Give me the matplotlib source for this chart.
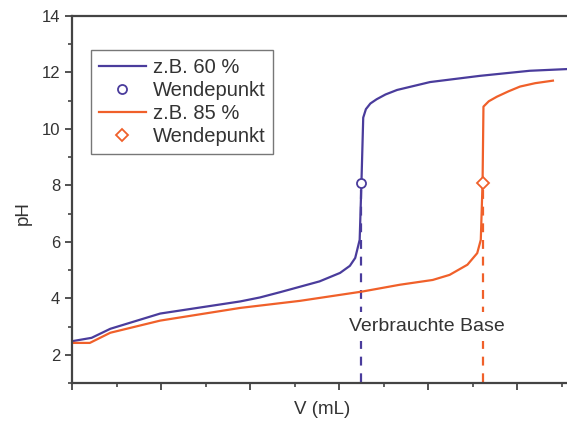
import matplotlib.pyplot as plt
from matplotlib.ticker import MultipleLocator, NullFormatter

plt.rcParams['font.family'] = ['Liberation Sans', 'DejaVu Sans']

# titration curves, x in (unlabelled) axis units, pH
v_60 = [0.0, 0.22, 0.43, 0.99, 1.89, 2.11, 2.34, 2.78, 3.01, 3.12, 3.18, 3.23,
        3.25, 3.27, 3.30, 3.35, 3.42, 3.52, 3.65, 4.02, 4.58, 5.14, 5.56, 6.0]
ph_60 = [2.48, 2.6, 2.92, 3.46, 3.89, 4.03, 4.22, 4.6, 4.9, 5.15, 5.43, 6.07,
         8.1, 10.4, 10.7, 10.9, 11.05, 11.22, 11.38, 11.66, 11.88, 12.06, 12.12, 12.15]

v_85 = [0.0, 0.2, 0.43, 0.99, 1.89, 2.56, 3.26, 3.68, 4.05, 4.24, 4.44, 4.55,
        4.59, 4.61, 4.62, 4.68, 4.77, 4.9, 5.03, 5.2, 5.40]
ph_85 = [2.42, 2.42, 2.78, 3.21, 3.66, 3.91, 4.24, 4.48, 4.65, 4.83, 5.19, 5.6,
         6.07, 8.1, 10.79, 10.98, 11.14, 11.33, 11.5, 11.62, 11.71]

wp_v = [3.25, 4.61]
wp_ph = [8.1, 8.1]

blue = '#4a3c9c'
orange = '#f0602a'
grey = '#333333'

fig = plt.figure(figsize=(5.67, 4.23), dpi=100)
ax = fig.add_axes([72 / 567, 1 - 383 / 423, 6 * 89.06 / 567, 367 / 423])

ax.plot(v_60, ph_60, color=blue, lw=1.6, label='z.B. 60 %')
ax.plot(wp_v[0], wp_ph[0], 'o', ms=6.5, mfc='white', mec=blue, mew=1.3, label='Wendepunkt')
ax.plot(v_85, ph_85, color=orange, lw=1.6, label='z.B. 85 %')
ax.plot(wp_v[1], wp_ph[1], 'D', ms=6, mfc='white', mec=orange, mew=1.3, label='Wendepunkt')

# dashed drop lines to the x axis
ax.plot([wp_v[0], wp_v[0]], [wp_ph[0] - 0.25, 1], color=blue, lw=1.6, ls=(0, (4, 3.5)), zorder=1)
ax.plot([wp_v[1], wp_v[1]], [wp_ph[1] - 0.25, 1], color=orange, lw=1.6, ls=(0, (4, 3.5)), zorder=1)

ax.text(3.99, 3.0, 'Verbrauchte Base', ha='center', va='center', fontsize=14, color=grey,
        bbox=dict(facecolor='white', edgecolor='none', pad=4), zorder=3)

ax.set_xlim(0, 6)
ax.set_ylim(1, 14)
ax.xaxis.set_major_locator(MultipleLocator(1))
ax.xaxis.set_minor_locator(MultipleLocator(0.5))
ax.xaxis.set_major_formatter(NullFormatter())
ax.yaxis.set_major_locator(MultipleLocator(2))
ax.yaxis.set_minor_locator(MultipleLocator(1))
ax.set_yticks([2, 4, 6, 8, 10, 12, 14])

for s in ax.spines.values():
    s.set_linewidth(1.6)
    s.set_color('#444444')
ax.tick_params(which='major', direction='out', length=5, width=1.3, color='#444444',
               labelsize=12, labelcolor=grey)
ax.tick_params(which='minor', direction='out', length=3, width=1.2, color='#444444')

ax.set_xlabel('V (mL)', fontsize=13.5, color=grey)
ax.set_ylabel('pH', fontsize=13.5, color=grey)
ax.xaxis.set_label_coords(0.469, -0.05)
ax.yaxis.set_label_coords(-0.075, 0.463)

leg = ax.legend(loc='upper left', bbox_to_anchor=(0.036, 0.907), fontsize=14.5, numpoints=1,
                fancybox=False, framealpha=1, edgecolor='#777777', handlelength=2.3,
                handletextpad=0.35, labelspacing=0.2, borderpad=0.4, borderaxespad=0)
leg.get_frame().set_linewidth(1.0)
for t in leg.get_texts():
    t.set_color(grey)

plt.savefig('out.png', dpi=100)
